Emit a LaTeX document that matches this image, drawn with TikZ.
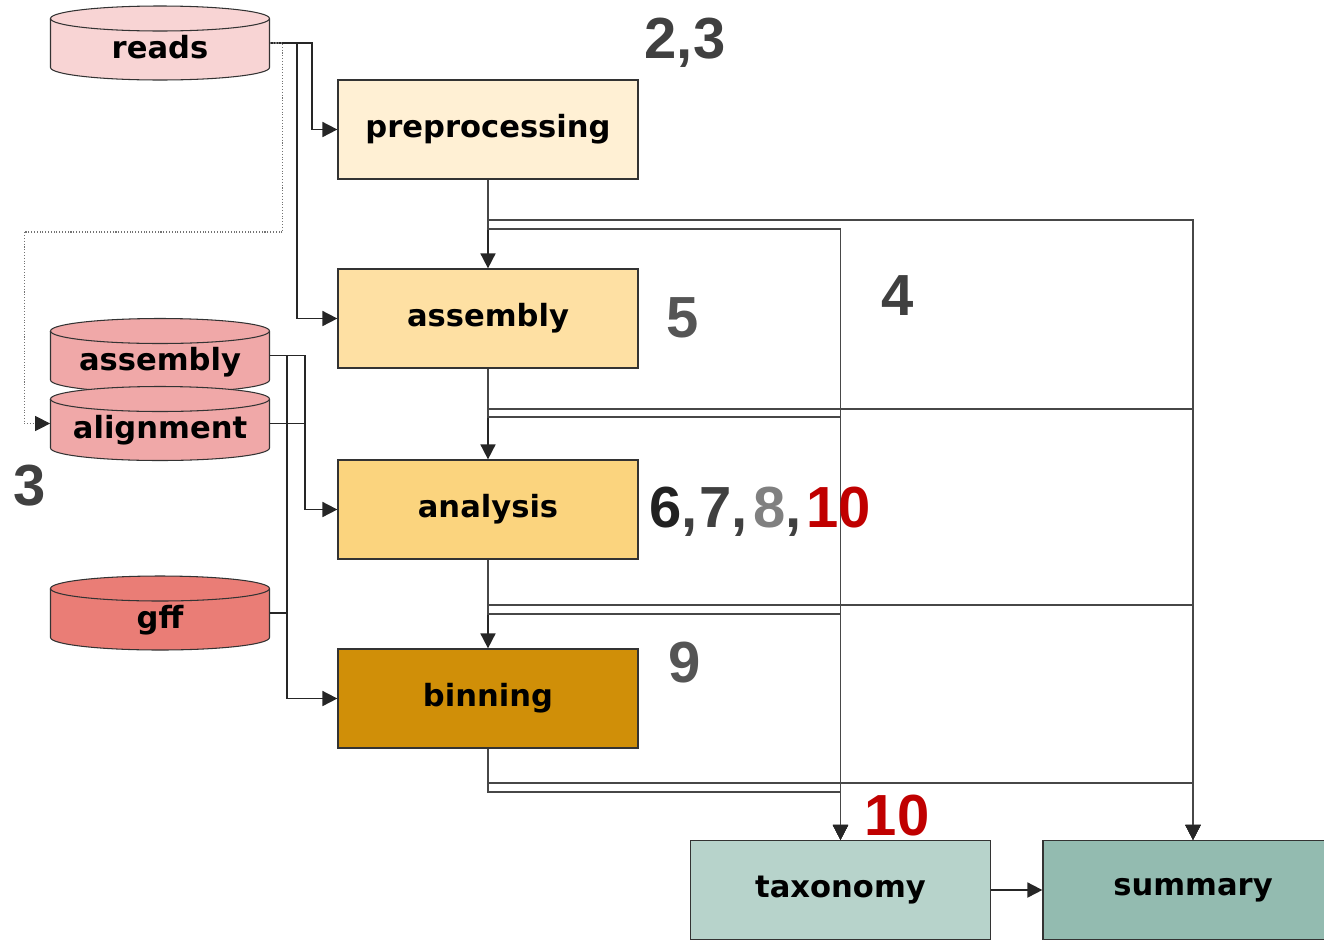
\documentclass[tikz,border=0pt]{standalone}
\usepackage{fontspec}
\setmainfont{DejaVu Sans}
\newfontfamily\numfont{Liberation Sans}
\usetikzlibrary{arrows.meta,calc}
\definecolor{readspink}{RGB}{248,212,212}
\definecolor{storepink}{RGB}{240,168,168}
\definecolor{gffred}{RGB}{234,125,118}
\definecolor{precream}{RGB}{255,240,212}
\definecolor{asmyellow}{RGB}{254,224,163}
\definecolor{anayellow}{RGB}{251,212,126}
\definecolor{binochre}{RGB}{208,143,8}
\definecolor{taxteal}{RGB}{183,211,203}
\definecolor{sumteal}{RGB}{147,187,176}
\definecolor{numgray}{RGB}{64,64,64}
\definecolor{numdark}{RGB}{34,34,34}
\definecolor{numlight}{RGB}{85,85,85}
\definecolor{numpale}{RGB}{128,128,128}
\definecolor{numred}{RGB}{192,0,0}
\tikzset{
  wire/.style={black!85,line width=1pt},
  flow/.style={wire,-{Triangle[length=3mm,width=3mm]}},
  branch/.style={black!72,line width=1pt},
  branchflow/.style={branch,-{Triangle[length=3mm,width=3mm,black!85]}},
  feed/.style={black!55,line width=0.6pt,densely dotted,-{Triangle[length=3mm,width=3mm,black!85]}},
  task/.style={draw=black!80,line width=0.7pt,minimum width=6cm,minimum height=1.98cm,
               inner sep=0pt,font=\fontsize{17.4}{19}\selectfont\bfseries},
  storetext/.style={minimum width=4.38cm,minimum height=1.48cm,inner sep=0pt,
                    text height=0.62cm,text depth=0.02cm,
                    font=\fontsize{17.4}{19}\selectfont\bfseries},
  pics/store/.style={code={
    \filldraw[fill=#1,draw=black!80,line width=0.6pt]
      (-109.5,-24.5) -- (-109.5,24.5) arc[start angle=180,end angle=360,x radius=2.19cm,y radius=0.25cm]
      -- (109.5,-24.5) arc[start angle=0,end angle=180,x radius=2.19cm,y radius=0.25cm] -- cycle;
    \draw[black!80,line width=0.6pt]
      (-109.5,-24.5) arc[start angle=180,end angle=360,x radius=2.19cm,y radius=0.25cm];
  }},
  num/.style={font=\numfont\fontsize{33}{36}\selectfont\bfseries,text=numgray,anchor=base,inner sep=0pt},
}
\begin{document}
\begin{tikzpicture}[x=0.2mm,y=-0.2mm]
  \path[use as bounding box] (0,0) rectangle (1324,939);

  % pipeline steps
  \node[task,fill=precream] (pre) at (488,129.5) {preprocessing};
  \node[task,fill=asmyellow] (asm) at (488,318.5) {assembly};
  \node[task,fill=anayellow] (ana) at (488,509.5) {analysis};
  \node[task,fill=binochre] (bin) at (488,698.5) {binning};
  \node[task,fill=taxteal] (tax) at (840.5,890) {taxonomy};
  \node[task,fill=sumteal] (sum) at (1193,890) {summary};

  % inputs
  \pic at (160,43) {store=readspink};
  \node[storetext] (reads) at (160,43) {reads};
  \pic at (160,355.5) {store=storepink};
  \node[storetext] (acyl) at (160,355.5) {assembly};
  \pic at (160,423.5) {store=storepink};
  \node[storetext] (align) at (160,423.5) {alignment};
  \pic at (160,613) {store=gffred};
  \node[storetext] (gff) at (160,613) {gff};

  \draw[flow] (reads.east) -- ++(42,0) |- (pre.west);
  \draw[flow] (reads.east) -- ++(27,0) |- (asm.west);
  \draw[feed] (reads.east) -| ($(reads.east)+(13,189)$) -| ($(align.west)+(-26,0)$) -- (align.west);
  \draw[flow] (acyl.east) -- ++(35,0) |- (ana.west);
  \draw[wire] (align.east) -- ++(35,0);
  \draw[flow] (acyl.east) -- ++(17,0) |- (bin.west);
  \draw[wire] (gff.east) -- ++(17,0);

  \draw[flow] (pre) -- (asm);
  \draw[flow] (asm) -- (ana);
  \draw[flow] (ana) -- (bin);
  \foreach \src/\ds/\dt in {pre/40/49,asm/40/48,ana/45/54,bin/34/43}{
    \draw[branchflow] (\src.south) -- ($(\src.south)+(0,\ds)$) -| (sum.north);
    \draw[branchflow] (\src.south) -- ($(\src.south)+(0,\dt)$) -| (tax.north);
  }
  \draw[flow] (tax) -- (sum);

  % step numbers
  \node[num] (n23) at (685,58) {2,3};
  \node[num] (n3) at (30,505) {3};
  \node[num] (n4) at (898,315) {4};
  \node[num,text=numlight] (n5) at (683,337) {5};
  \node[num,anchor=base west] (n6) at (649,527)
    {\textcolor{numdark}{6},\kern1pt\textcolor{numgray}{7},\kern3pt\textcolor{numpale}{8},\kern3pt\textcolor{numred}{10}};
  \node[num,text=numlight] (n9) at (685,682) {9};
  \node[num,text=numred] (n10) at (897,835) {10};
\end{tikzpicture}
\end{document}
